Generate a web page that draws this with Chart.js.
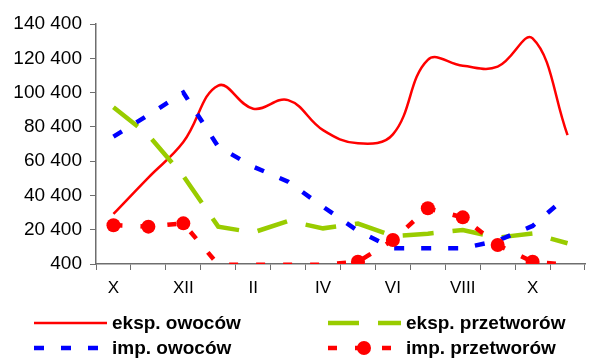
<!DOCTYPE html>
<html><head><meta charset="utf-8">
<script src="https://cdn.jsdelivr.net/npm/chart.js@4"></script>
<style>html,body{margin:0;padding:0;background:#fff}#wrap{width:592px;height:359px;position:relative}</style>
</head><body><div id="wrap"><canvas id="c"></canvas></div>
<script>
const months = ['X','XI','XII','I','II','III','IV','V','VI','VII','VIII','IX','X','XI'];
const eksOwocow = [29600, 50800, 71500, 104500, 91000, 96000, 78500, 70800, 76000, 119500, 116000, 115500, 132000, 75600];
const eksPrzetworow = [91800, 75600, 51700, 22200, 18800, 25500, 21200, 24000, 16700, 18100, 20200, 15800, 18200, 12500];
const impOwocow = [74700, 87300, 100400, 68800, 57200, 48400, 33800, 19700, 9600, 9600, 9600, 14000, 22600, 40200];
const impPrzetworow = [23000, 22200, 24100, 0, 0, 0, 0, 1700, 14400, 32900, 27600, 11500, 1700, 0];
const yTicks = [400, 20400, 40400, 60400, 80400, 100400, 120400, 140400];
const seriesNames = ['eksp. owoców', 'eksp. przetworów', 'imp. owoców', 'imp. przetworów'];

const AXIS = '#6e6e6e';
const FONT = 'Liberation Sans, Arial, sans-serif';

const legendPlugin = {
  id: 'gridLegend',
  afterDraw(chart) {
    const ctx = chart.ctx;
    const cols = [34, 328], rows = [323, 348];
    chart.data.datasets.forEach((ds, i) => {
      const x = cols[i % 2], y = rows[Math.floor(i / 2)];
      ctx.save();
      ctx.strokeStyle = ds.borderColor;
      ctx.lineWidth = ds.borderWidth;
      ctx.lineCap = 'butt';
      ctx.setLineDash(ds.borderDash || []);
      ctx.beginPath();
      ctx.moveTo(x, y);
      ctx.lineTo(x + 73, y);
      ctx.stroke();
      ctx.setLineDash([]);
      if (ds.legendMarker) {
        ctx.fillStyle = ds.pointBackgroundColor;
        ctx.beginPath();
        ctx.arc(x + 36, y, 7, 0, Math.PI * 2);
        ctx.fill();
      }
      ctx.fillStyle = '#000';
      ctx.font = 'bold 19px ' + FONT;
      ctx.textAlign = 'left';
      ctx.textBaseline = 'middle';
      ctx.fillText(ds.label, x + 78, y + 1);
      ctx.restore();
    });
  }
};

new Chart(document.getElementById('c'), {
  type: 'line',
  data: {
    labels: months,
    datasets: [
      { label: seriesNames[0], data: eksOwocow, borderColor: '#ff0000', borderWidth: 2.5, tension: 0.4, pointRadius: 0, order: 3 },
      { label: seriesNames[1], data: eksPrzetworow, borderColor: '#99cc00', borderWidth: 4.5, borderDash: [31, 19], tension: 0, pointRadius: 0, order: 2 },
      { label: seriesNames[2], data: impOwocow, borderColor: '#0000ff', borderWidth: 4.5, borderDash: [10, 17], tension: 0, pointRadius: 0, order: 1 },
      { label: seriesNames[3], data: impPrzetworow, borderColor: '#ff0000', borderWidth: 4.5, borderDash: [9, 18], tension: 0,
        pointRadius: c => (c.raw >= 400 ? 7 : 0), pointBackgroundColor: '#ff0000', pointBorderWidth: 0,
        legendMarker: true, order: 0 }
    ]
  },
  options: {
    responsive: true,
    maintainAspectRatio: false,
    animation: false,
    layout: { padding: { top: 24, right: 0, bottom: 62, left: 0 } },
    plugins: { legend: { display: false }, tooltip: { enabled: false } },
    scales: {
      x: {
        offset: true,
        grid: { display: true, drawOnChartArea: false, offset: true, tickLength: 6, color: AXIS },
        border: { display: true, color: AXIS, width: 1.5 },
        ticks: {
          autoSkip: false, maxRotation: 0, padding: 8, color: '#000',
          font: { family: FONT, size: 17 },
          callback: (v, i) => (i % 2 === 0 ? months[i] : '')
        },
        afterFit: s => { s.height = 33; }
      },
      y: {
        min: 400, max: 140400,
        afterBuildTicks: s => { s.ticks = yTicks.map(v => ({ value: v })); },
        grid: { display: true, drawOnChartArea: false, tickLength: 6, color: AXIS },
        border: { display: true, color: AXIS, width: 1.5 },
        ticks: {
          padding: 8, color: '#000',
          font: { family: FONT, size: 19 },
          callback: v => String(v).replace(/\B(?=(\d{3})+(?!\d))/g, ' ')
        },
        afterFit: s => { s.width = 96; }
      }
    }
  },
  plugins: [legendPlugin]
});
</script>
</body></html>
